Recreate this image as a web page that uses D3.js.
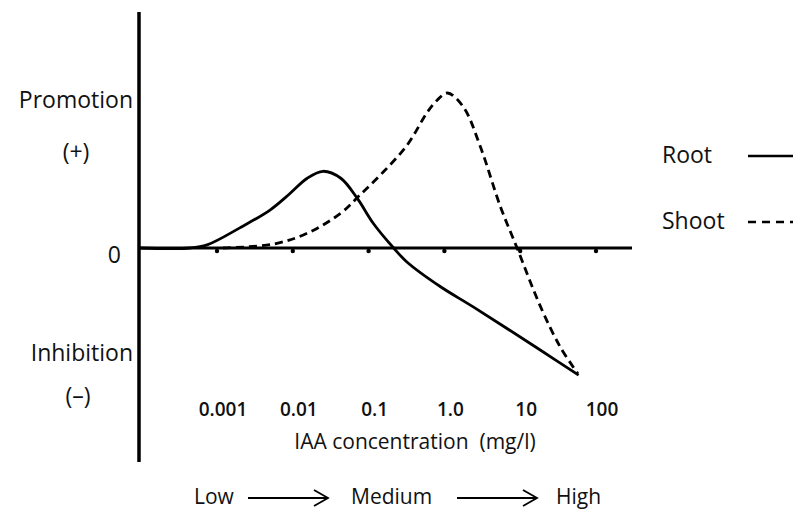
<!DOCTYPE html>
<html lang="en">
<head>
  <meta charset="UTF-8">
  <title>IAA concentration response</title>
  <script src="https://d3js.org/d3.v7.min.js"></script>
  <style>
    body { margin: 0; background: #fff; }
    text { font-family: "Open Sans", sans-serif; fill: #111; }
    .big { font-size: 23px; }
    .tick-label { font-size: 19px; font-weight: 600; }
    .axislabel { font-size: 21px; }
  </style>
</head>
<body>
<div id="chart"></div>
<script>
  // ## Data (concentration in mg/l, response relative to shoot peak = 1)
  const rootConc  = [0.000095, 0.00044, 0.00074, 0.002, 0.005, 0.0091, 0.0155, 0.025, 0.043, 0.071, 0.115, 0.214, 0.32, 0.89, 2.4, 18.6, 59];
  const rootResp  = [0, 0, 0.02, 0.13, 0.245, 0.35, 0.45, 0.495, 0.45, 0.32, 0.16, 0, -0.09, -0.25, -0.38, -0.66, -0.82];
  const shootConc = [0.0012, 0.0055, 0.0155, 0.043, 0.078, 0.156, 0.324, 0.596, 0.807, 1.1, 1.78, 3.0, 5.5, 9.1, 18.6, 33.9, 57.5];
  const shootResp = [0, 0.025, 0.095, 0.225, 0.345, 0.49, 0.665, 0.877, 0.955, 1.0, 0.91, 0.65, 0.265, 0, -0.38, -0.64, -0.81];
  const tickValues = [0.001, 0.01, 0.1, 1, 10, 100];
  const tickLabels = ["0.001", "0.01", "0.1", "1.0", "10", "100"];

  const width = 793, height = 509;
  const svg = d3.select("#chart").append("svg")
    .attr("width", width).attr("height", height);

  // ## Scales
  const x0 = 139;
  const xScale = d3.scaleLog()
    .domain([0.001, 100])
    .range([217, 596]);
  const yScale = d3.scaleLinear()
    .domain([0, 1])
    .range([248, 93]);

  // ## Axes
  svg.append("line")
    .attr("x1", x0).attr("x2", x0)
    .attr("y1", 12).attr("y2", 462)
    .attr("stroke", "#000").attr("stroke-width", 3.5);

  svg.append("line")
    .attr("x1", x0).attr("x2", 632)
    .attr("y1", yScale(0)).attr("y2", yScale(0))
    .attr("stroke", "#000").attr("stroke-width", 3);

  // tick dots below the axis
  svg.selectAll(".tickdot")
    .data(tickValues)
    .enter().append("circle")
    .attr("cx", d => xScale(d))
    .attr("cy", yScale(0) + 3)
    .attr("r", 2.2)
    .attr("fill", "#000");

  svg.selectAll(".tick-label")
    .data(tickValues)
    .enter().append("text")
    .attr("class", "tick-label")
    .attr("x", (d, i) => xScale(d) + 6)
    .attr("y", 416)
    .attr("text-anchor", "middle")
    .text((d, i) => tickLabels[i]);

  svg.append("text")
    .attr("class", "axislabel")
    .attr("x", 415).attr("y", 449)
    .attr("text-anchor", "middle")
    .attr("xml:space", "preserve")
    .text("IAA concentration  (mg/l)");

  // y labels
  const yLabels = [
    {t: "Promotion", x: 133, y: 108, a: "end"},
    {t: "(+)", x: 76, y: 160, a: "middle"},
    {t: "0", x: 121, y: 263, a: "end"},
    {t: "Inhibition", x: 133, y: 361, a: "end"},
    {t: "(\u2013)", x: 78, y: 404, a: "middle"}
  ];
  svg.selectAll(".ylab")
    .data(yLabels)
    .enter().append("text")
    .attr("class", "big")
    .attr("x", d => d.x).attr("y", d => d.y)
    .attr("text-anchor", d => d.a)
    .text(d => d.t);

  // ## Curves
  const line = d3.line()
    .x(d => xScale(d[0]))
    .y(d => yScale(d[1]))
    .curve(d3.curveCatmullRom.alpha(0.5));

  svg.append("path")
    .datum(rootConc.map((c, i) => [c, rootResp[i]]))
    .attr("d", line)
    .attr("fill", "none")
    .attr("stroke", "#000")
    .attr("stroke-width", 2.8)
    .attr("stroke-linejoin", "round");

  svg.append("path")
    .datum(shootConc.map((c, i) => [c, shootResp[i]]))
    .attr("d", line)
    .attr("fill", "none")
    .attr("stroke", "#000")
    .attr("stroke-width", 2.8)
    .attr("stroke-dasharray", "8,5");

  // ## Legend
  const legend = [
    {t: "Root", y: 163, dash: null},
    {t: "Shoot", y: 229, dash: "8,6"}
  ];
  legend.forEach(d => {
    svg.append("text").attr("class", "big")
      .attr("x", 662).attr("y", d.y).text(d.t);
    svg.append("line")
      .attr("x1", 748).attr("x2", 795)
      .attr("y1", d.y - 7).attr("y2", d.y - 7)
      .attr("stroke", "#000").attr("stroke-width", 2.5)
      .attr("stroke-dasharray", d.dash);
  });

  // ## Low -> Medium -> High
  const scaleWords = [
    {t: "Low", x: 194},
    {t: "Medium", x: 351},
    {t: "High", x: 556}
  ];
  scaleWords.forEach(d => {
    svg.append("text").attr("class", "axislabel")
      .attr("x", d.x).attr("y", 504).text(d.t);
  });
  [[248, 328], [457, 537]].forEach(([a, b]) => {
    svg.append("path")
      .attr("d", `M${a},498 H${b} M${b - 14},490 L${b},498 L${b - 14},506`)
      .attr("fill", "none")
      .attr("stroke", "#000")
      .attr("stroke-width", 1.8);
  });
</script>
</body>
</html>
